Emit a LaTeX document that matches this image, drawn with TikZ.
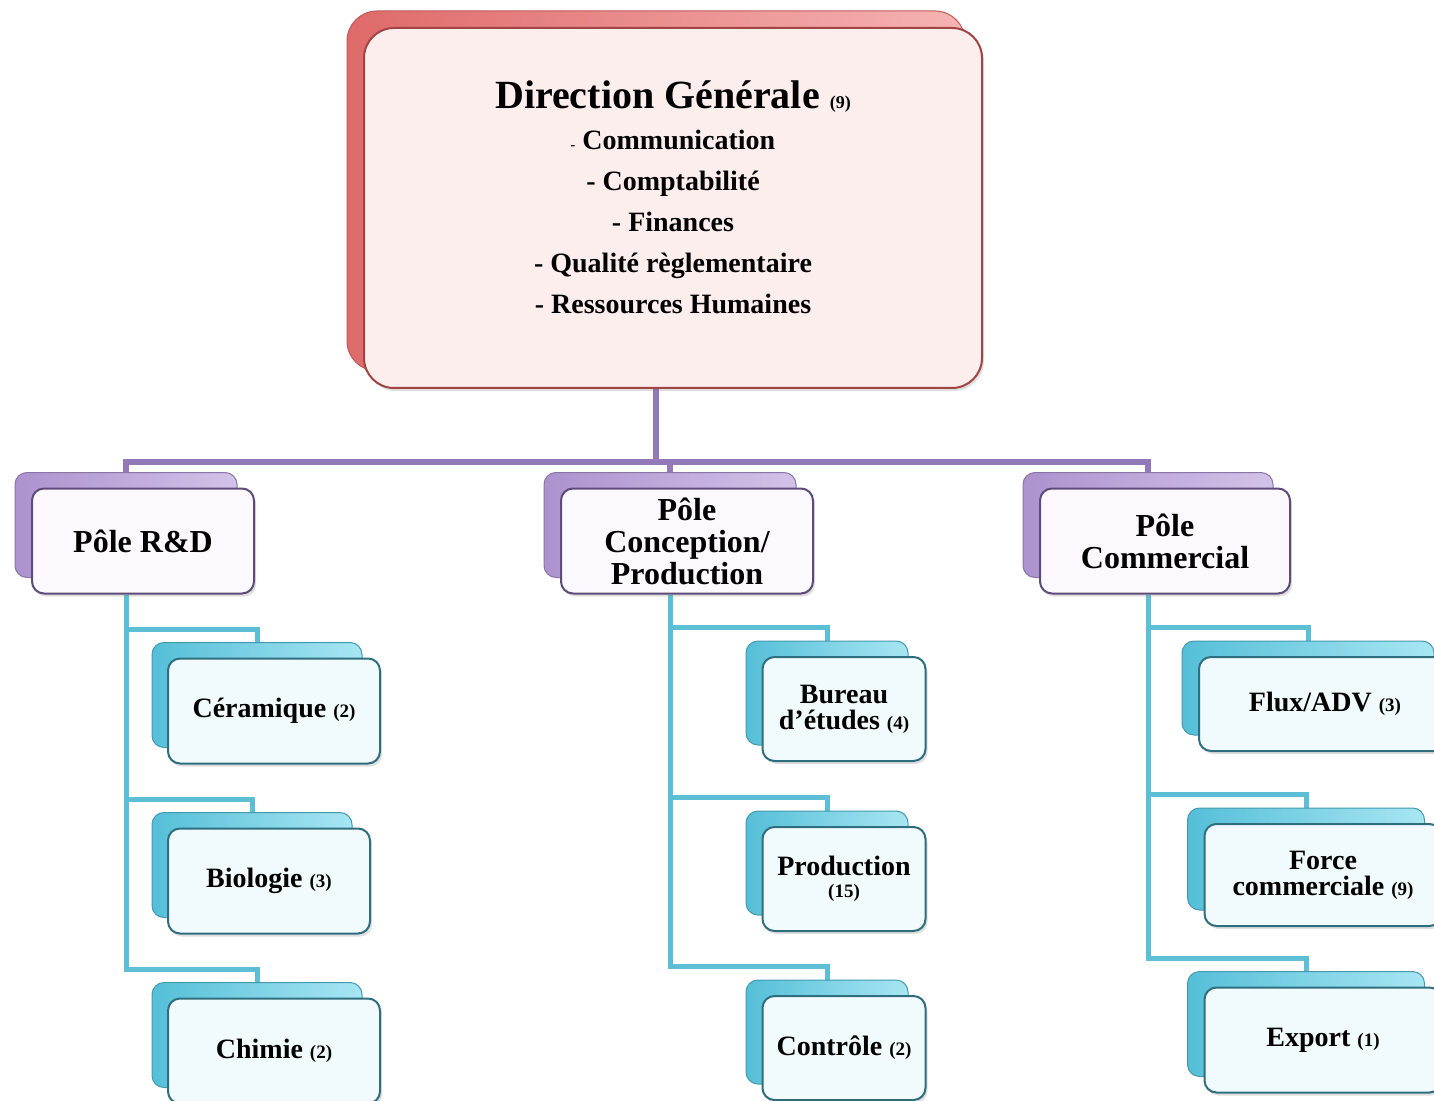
\documentclass[tikz,border=0pt]{standalone}
\usepackage{fontspec}
\setmainfont{Liberation Serif}
\usepackage{tikz}
\usetikzlibrary{backgrounds,shadows}
\definecolor{rouge}{HTML}{DF6A6A}
\definecolor{rougel}{HTML}{F6B3B3}
\definecolor{rougebord}{HTML}{A04444}
\definecolor{rose}{HTML}{FDEEEE}
\definecolor{mauve}{HTML}{AC92CE}
\definecolor{mauvel}{HTML}{D3C2E8}
\definecolor{mauvebord}{HTML}{5E4B79}
\definecolor{mauvetrait}{HTML}{9479B8}
\definecolor{lilas}{HTML}{FBF9FD}
\definecolor{turq}{HTML}{55BFD8}
\definecolor{turql}{HTML}{A8E6F3}
\definecolor{turqbord}{HTML}{2F6E7E}
\definecolor{turqtrait}{HTML}{5CBFD5}
\definecolor{glace}{HTML}{F1FAFD}
\newcommand{\nbfont}{\fontsize{9.5}{10}\selectfont}

\begin{document}
\begin{tikzpicture}[x=0.5pt,y=-0.5pt,wh/.style 2 args={minimum width=#1*0.5pt,minimum height=#2*0.5pt},back/.style={rounded corners=6pt,inner sep=0pt,line width=0.5pt},front/.style={rounded corners=6pt,inner sep=0pt,line width=1pt,align=center,drop shadow={opacity=0.25,shadow xshift=1pt,shadow yshift=-1.5pt}},dgback/.style={back,rounded corners=15pt,left color=rouge,right color=rougel,draw=rouge!85!black},dgfront/.style={front,rounded corners=15pt,fill=rose,draw=rougebord,font=\bfseries\fontsize{14}{20.5}\selectfont},poleback/.style={back,left color=mauve,right color=mauvel,draw=mauve!80!black},polefront/.style={front,fill=lilas,draw=mauvebord,font=\bfseries\fontsize{16}{16}\selectfont},serviceback/.style={back,left color=turq,right color=turql,draw=turq!80!black},servicefront/.style={front,fill=glace,draw=turqbord,font=\bfseries\fontsize{14}{13}\selectfont},plink/.style={draw=mauvetrait,line width=3pt},clink/.style={draw=turqtrait,line width=2.5pt}]
\useasboundingbox (0,0) rectangle (1434,1101);
% direction
\node[dgback,wh={618}{360}] (dgB) at (656,191) {};
\node[dgfront,wh={618}{360}] (dgF) at ([xshift=8.5pt,yshift=-8.5pt]dgB.center) {{\fontsize{20}{24}\selectfont Direction Générale {\fontsize{9}{10}\selectfont(9)}}\\{\fontsize{7}{8}\selectfont-} Communication\\- Comptabilité\\- Finances\\- Qualité règlementaire\\- Ressources Humaines\\[-10pt]\mbox{}};
% poles
\node[poleback,wh={222}{105}] (rdB) at (126,525) {};
\node[polefront,wh={222}{105}] (rdF) at ([xshift=8.5pt,yshift=-8pt]rdB.center) {Pôle R\&D};
\node[poleback,wh={252}{105}] (coB) at (670,525) {};
\node[polefront,wh={252}{105}] (coF) at ([xshift=8.5pt,yshift=-8pt]coB.center) {Pôle\\Conception/\\Production};
\node[poleback,wh={250}{105}] (ccB) at (1148,525) {};
\node[polefront,wh={250}{105}] (ccF) at ([xshift=8.5pt,yshift=-8pt]ccB.center) {Pôle\\Commercial};
% services R&D
\node[serviceback,wh={210}{105}] (ceB) at (257,695) {};
\node[servicefront,wh={212}{105}] (ceF) at ([xshift=8.5pt,yshift=-8pt]ceB.center) {Céramique {\nbfont(2)}};
\node[serviceback,wh={200}{105}] (biB) at (252,865) {};
\node[servicefront,wh={202}{105}] (biF) at ([xshift=8.5pt,yshift=-8pt]biB.center) {Biologie {\nbfont(3)}};
\node[serviceback,wh={210}{105}] (chB) at (257,1035) {};
\node[servicefront,wh={212}{105}] (chF) at ([xshift=8.5pt,yshift=-8pt]chB.center) {Chimie {\nbfont(2)}};
% services conception/production
\node[serviceback,wh={162}{104}] (buB) at (827,693) {};
\node[servicefront,wh={163}{104}] (buF) at ([xshift=8.5pt,yshift=-8pt]buB.center) {Bureau\\d'études {\nbfont(4)}};
\node[serviceback,wh={162}{104}] (prB) at (827,863) {};
\node[servicefront,wh={163}{104}] (prF) at ([xshift=8.5pt,yshift=-8pt]prB.center) {Production\\[-2pt]{\nbfont(15)}};
\node[serviceback,wh={162}{104}] (ctB) at (827,1032) {};
\node[servicefront,wh={163}{104}] (ctF) at ([xshift=8.5pt,yshift=-8pt]ctB.center) {Contrôle {\nbfont(2)}};
% services commercial
\node[serviceback,wh={252}{94}] (fxB) at (1308,688) {};
\node[servicefront,wh={252}{94}] (fxF) at ([xshift=8.5pt,yshift=-8pt]fxB.center) {Flux/ADV {\nbfont(3)}};
\node[serviceback,wh={237}{102}] (fcB) at (1306,859) {};
\node[servicefront,wh={237}{102}] (fcF) at ([xshift=8.5pt,yshift=-8pt]fcB.center) {Force\\commerciale {\nbfont(9)}};
\node[serviceback,wh={237}{105}] (exB) at (1306,1024) {};
\node[servicefront,wh={237}{105}] (exF) at ([xshift=8.5pt,yshift=-8pt]exB.center) {Export {\nbfont(1)}};
\begin{scope}[on background layer]
\draw[plink] (dgB.south) -- ++(0,90) coordinate (bus);
\draw[plink] (rdB.north) |- (bus) -| (ccB.north);
\draw[plink] (bus) -| (coB.north);
\draw[clink] (rdB.south |- rdF.south) |- ([yshift=6.5pt]ceB.north) -- (ceB.north);
\draw[clink] (rdB.south |- rdF.south) |- ([yshift=6.5pt]biB.north) -- (biB.north);
\draw[clink] (rdB.south |- rdF.south) |- ([yshift=6.5pt]chB.north) -- (chB.north);
\draw[clink] (coB.south |- coF.south) |- ([yshift=6.5pt]buB.north) -- (buB.north);
\draw[clink] (coB.south |- coF.south) |- ([yshift=6.5pt]prB.north) -- (prB.north);
\draw[clink] (coB.south |- coF.south) |- ([yshift=6.5pt]ctB.north) -- (ctB.north);
\draw[clink] (ccB.south |- ccF.south) |- ([yshift=6.5pt]fxB.north) -- (fxB.north);
\draw[clink] (ccB.south |- ccF.south) |- ([yshift=6.5pt]fcB.north) -- (fcB.north);
\draw[clink] (ccB.south |- ccF.south) |- ([yshift=6.5pt]exB.north) -- (exB.north);
\end{scope}
\end{tikzpicture}
\end{document}
